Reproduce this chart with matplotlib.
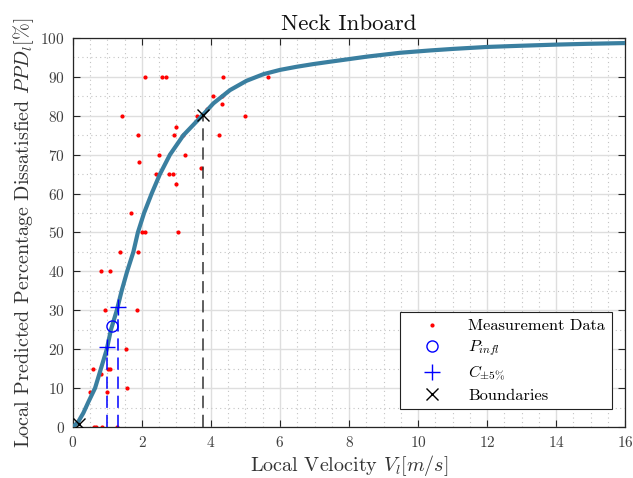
import matplotlib
matplotlib.use("Agg")
import matplotlib.pyplot as plt
from matplotlib.ticker import MultipleLocator

plt.rcParams["font.family"] = "serif"
plt.rcParams["font.serif"] = ["cmr10", "DejaVu Serif"]
plt.rcParams["mathtext.fontset"] = "cm"
plt.rcParams["axes.formatter.use_mathtext"] = True

# measurement data (velocity m/s, PPD %)
meas_v = [2.10, 2.59, 2.70, 4.34, 4.05, 4.33, 4.31, 1.42, 3.59, 5.00, 3.87,
          3.00, 1.88, 2.93, 3.20, 4.22, 2.50, 3.24, 1.90, 3.71, 2.40, 2.78,
          2.89, 3.00, 1.67, 2.00, 2.10, 3.03, 1.35, 1.88, 0.81, 1.08, 0.93,
          1.86, 1.53, 0.57, 1.02, 1.06, 0.80, 0.49, 1.00, 1.58, 0.60, 0.68,
          0.84, 1.27, 5.66]
meas_ppd = [90, 90, 90, 90, 85, 85, 83.1, 80, 80, 80, 81.7,
            77, 75, 75, 75, 75, 70, 70, 68, 66.5, 65, 65,
            65, 62.4, 55, 50, 50, 50, 45, 45, 40, 40, 30,
            30, 20, 15, 15, 15, 13.5, 9, 9, 10, 0, 0,
            0, 0, 90]

# fitted curve
fit_v = [0.0, 0.15, 0.30, 0.45, 0.64, 0.81, 0.98, 1.10, 1.27, 1.41, 1.57,
         1.75, 1.88, 2.06, 2.28, 2.52, 2.81, 3.20, 3.76, 4.07, 4.55, 5.03,
         5.52, 6.00, 6.48, 6.97, 7.45, 8.51, 9.48, 10.35, 11.02, 12.0, 12.96,
         14.0, 14.89, 16.0]
fit_ppd = [0.0, 1.3, 3.6, 6.5, 10, 15, 20, 25, 30, 35, 40,
           45, 50, 55, 60, 65, 70, 75, 80.2, 83.2, 86.6, 89.0,
           90.7, 91.8, 92.6, 93.3, 93.9, 95.2, 96.2, 96.8, 97.2, 97.7, 98.0,
           98.3, 98.5, 98.7]

infl_v, infl_ppd = [1.14], [26.0]
conf_v, conf_ppd = [1.00, 1.30], [20.6, 30.8]
bound_v, bound_ppd = [0.18, 3.78], [0.8, 80.2]

fig = plt.figure(figsize=(6.33, 4.78), dpi=100)
ax = fig.add_axes([0.1153, 0.1067, 0.8721, 0.8138])

ax.plot(fit_v, fit_ppd, color="#3a7fa0", lw=3.0, zorder=3,
        solid_joinstyle="round")
ax.plot(meas_v, meas_ppd, ".", color="red", ms=4, zorder=2, label="Measurement Data")
for v, p in zip(conf_v, conf_ppd):
    ax.plot([v, v], [0, p], "--", color="blue", lw=1.1, dashes=(8, 4.5), zorder=4)
ax.plot([bound_v[1], bound_v[1]], [0, bound_ppd[1]], "--", color="#333333",
        lw=1.1, dashes=(8, 4.5), zorder=4)
ax.plot(infl_v, infl_ppd, "o", mfc="none", mec="blue", ms=8, mew=1.0, zorder=5,
        label=r"$P_{infl}$")
ax.plot(conf_v, conf_ppd, "+", color="blue", ms=11, mew=1.0, zorder=5,
        label=r"$C_{\pm 5\%}$")
ax.plot(bound_v, bound_ppd, "x", color="black", ms=8, mew=1.0, zorder=5,
        label="Boundaries")

ax.set_xlim(0, 16)
ax.set_ylim(0, 100)
ax.xaxis.set_major_locator(MultipleLocator(2))
ax.xaxis.set_minor_locator(MultipleLocator(0.5))
ax.yaxis.set_major_locator(MultipleLocator(10))
ax.yaxis.set_minor_locator(MultipleLocator(5))
ax.grid(True, which="major", color="#dedede", lw=1.0)
ax.grid(True, which="minor", color="#c4c4c4", lw=0.8, ls=(0, (1, 3)))
ax.set_axisbelow(True)
ax.tick_params(which="major", direction="in", top=True, right=True, length=5,
               width=0.8, labelsize=11, colors="#262626", labelcolor="#404040",
               pad=6)
ax.tick_params(which="minor", length=0)
for s in ax.spines.values():
    s.set_color("#262626")
    s.set_linewidth(0.9)

ax.set_title("Neck Inboard", fontsize=16.5, color="#111111", pad=6)
ax.set_xlabel(r"Local Velocity $V_l[m/s]$", fontsize=14.5, color="#333333",
              labelpad=2)
ax.set_ylabel(r"Local Predicted Percentage Dissatisfied $PPD_l[\%]$",
              fontsize=14.5, color="#333333", labelpad=3)

leg = ax.legend(loc="lower right", bbox_to_anchor=(0.976, 0.046), fontsize=11.8,
                fancybox=False, framealpha=1, edgecolor="#222222",
                handlelength=3.2, handletextpad=0.6, borderaxespad=0,
                labelspacing=0.32)
leg.get_frame().set_linewidth(0.8)

fig.savefig("out.png", dpi=100)
